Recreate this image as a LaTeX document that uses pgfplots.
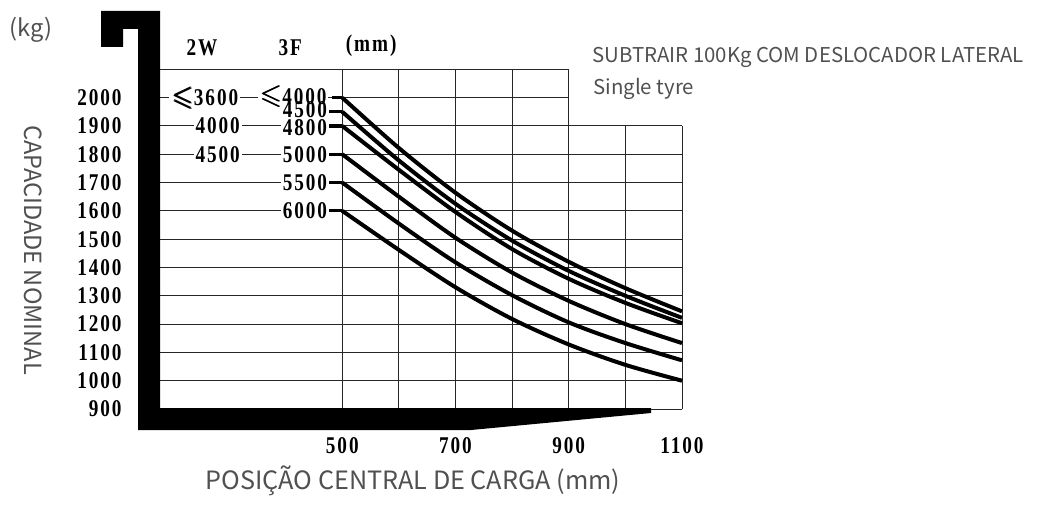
\documentclass[border=0pt]{standalone}
\usepackage{amssymb}
\usepackage{bm}
\usepackage{fontspec}
\usepackage{pgfplots}
\pgfplotsset{compat=1.18}
\setmainfont{Liberation Serif}
\newfontfamily\lab{Noto Sans CJK SC}
\newfontfamily\num[FakeStretch=0.8,LetterSpace=8]{Liberation Serif}
\definecolor{labgray}{HTML}{505050}
\newcommand{\numf}{\num\bfseries\fontsize{12}{12}\selectfont}
\newcommand{\labf}[1]{\lab\fontsize{#1}{#1}\selectfont\color{labgray}}
\newcommand{\leqs}{\raisebox{0.2pt}{\scalebox{1.15}{$\bm{\leqslant}$}}}

\pgfplotstableread{
x    a     b     c     d     e     f
500  2000  1950  1900  1800  1700  1600
600  1822  1778  1745  1650  1555  1462
700  1664  1625  1596  1505  1418  1330
800  1530  1495  1465  1382  1302  1218
900  1420  1388  1360  1282  1206  1128
1000 1327  1300  1275  1200  1133  1056
1100 1245  1222  1203  1133  1072  1000
}\curves

\begin{document}
\begin{tikzpicture}[x=0.5pt,y=0.5pt]
\path[use as bounding box] (0,0) rectangle (1048,520);
\begin{axis}[
  at={(80pt,55.5pt)}, anchor=south west,
  scale only axis, width=261pt, height=169.8pt,
  xmin=178, xmax=1100, ymin=900, ymax=2100,
  clip=false,
  axis x line*=bottom, axis y line*=left,
  axis line style={draw=none}, major tick length=0pt,
  xtick={500,700,900,1100}, xticklabels={500,700,900,1100},
  ytick={900,1000,1100,1200,1300,1400,1500,1600,1700,1800,1900,2000},
  yticklabels={900,1000,1100,1200,1300,1400,1500,1600,1700,1800,1900,2000},
  yticklabel style={font=\numf, anchor=east, inner sep=0pt, xshift=-19pt},
  xticklabel style={font=\numf, anchor=north, inner sep=0pt, yshift=-14pt},
]
% grid
\draw[black!85, line width=0.5pt] (axis cs:178,2100) -- (axis cs:900,2100);
\draw[black!85, line width=0.5pt] (axis cs:178,2000) -- (axis cs:900,2000);
\pgfplotsinvokeforeach{900,1000,1100,1200,1300,1400,1500,1600,1700,1800,1900}{
  \draw[black!85, line width=0.5pt] (axis cs:178,#1) -- (axis cs:1100,#1);
}
\pgfplotsinvokeforeach{500,600,700,800,900}{
  \draw[black!85, line width=0.5pt] (axis cs:#1,900) -- (axis cs:#1,2100);
}
\pgfplotsinvokeforeach{1000,1100}{
  \draw[black!85, line width=0.5pt] (axis cs:#1,900) -- (axis cs:#1,1900);
}
% curves
\addplot[black, line width=2pt, smooth] table[x=x,y=a] {\curves};
\addplot[black, line width=2pt, smooth] table[x=x,y=b] {\curves};
\addplot[black, line width=2pt, smooth] table[x=x,y=c] {\curves};
\addplot[black, line width=2pt, smooth] table[x=x,y=d] {\curves};
\addplot[black, line width=2pt, smooth] table[x=x,y=e] {\curves};
\addplot[black, line width=2pt, smooth] table[x=x,y=f] {\curves};
% short lead-in ticks
\addplot[black, line width=1.6pt] coordinates {(482,2000) (500,2000)};
\addplot[black, line width=1.6pt] coordinates {(477,1950) (500,1950)};
\addplot[black, line width=1.6pt] coordinates {(477,1900) (500,1900)};
\addplot[black, line width=1.6pt] coordinates {(477,1800) (500,1800)};
\addplot[black, line width=1.6pt] coordinates {(477,1700) (500,1700)};
\addplot[black, line width=1.6pt] coordinates {(475,1600) (500,1600)};
% labels
\node[font=\numf, fill=white, inner sep=1pt] at (axis cs:280,1900) {4000};
\node[font=\numf, fill=white, inner sep=1pt] at (axis cs:280,1800) {4500};
\node[font=\numf, fill=white, inner sep=1pt] at (axis cs:434,1895) {4800};
\node[font=\numf, fill=white, inner sep=1pt] at (axis cs:434,1800) {5000};
\node[font=\numf, fill=white, inner sep=1pt] at (axis cs:434,1700) {5500};
\node[font=\numf, fill=white, inner sep=1pt] at (axis cs:434,1600) {6000};
\node[font=\numf, fill=white, inner sep=1pt] at (axis cs:257,2000) {\leqs3600};
\node[font=\numf, fill=white, inner sep=1pt] at (axis cs:413,2004) {\leqs4000};
\node[font=\numf, inner sep=0pt] at (axis cs:434,1957) {4500};
\node[font=\numf] at (axis cs:252,2178) {2W};
\node[font=\numf] at (axis cs:408,2178) {3F};
\node[font=\numf] at (axis cs:551,2185) {(mm)};
\end{axis}
\begin{scope}[shift={(0,520)}, yscale=-1]
% fork-shaped frame
\fill[black] (101,11) -- (160,11) -- (160,408) -- (651,408) -- (651,413) -- (471,430) -- (138,430) -- (138,29) -- (123,29) -- (123,47) -- (101,47) -- cycle;
% texts
\node[font=\labf{11.8}] at (31,30) {(kg)};
\node[font=\labf{11.8}, rotate=-90] at (33,250) {CAPACIDADE NOMINAL};
\node[font=\labf{12.6}] at (413,481) {POSIÇÃO CENTRAL DE CARGA (mm)};
\node[font=\labf{10.2}, anchor=west, inner sep=0pt] at (592,57) {SUBTRAIR 100Kg COM DESLOCADOR LATERAL};
\node[font=\labf{10.2}, anchor=west, inner sep=0pt] at (593,89) {Single tyre};
\end{scope}
\end{tikzpicture}
\end{document}
